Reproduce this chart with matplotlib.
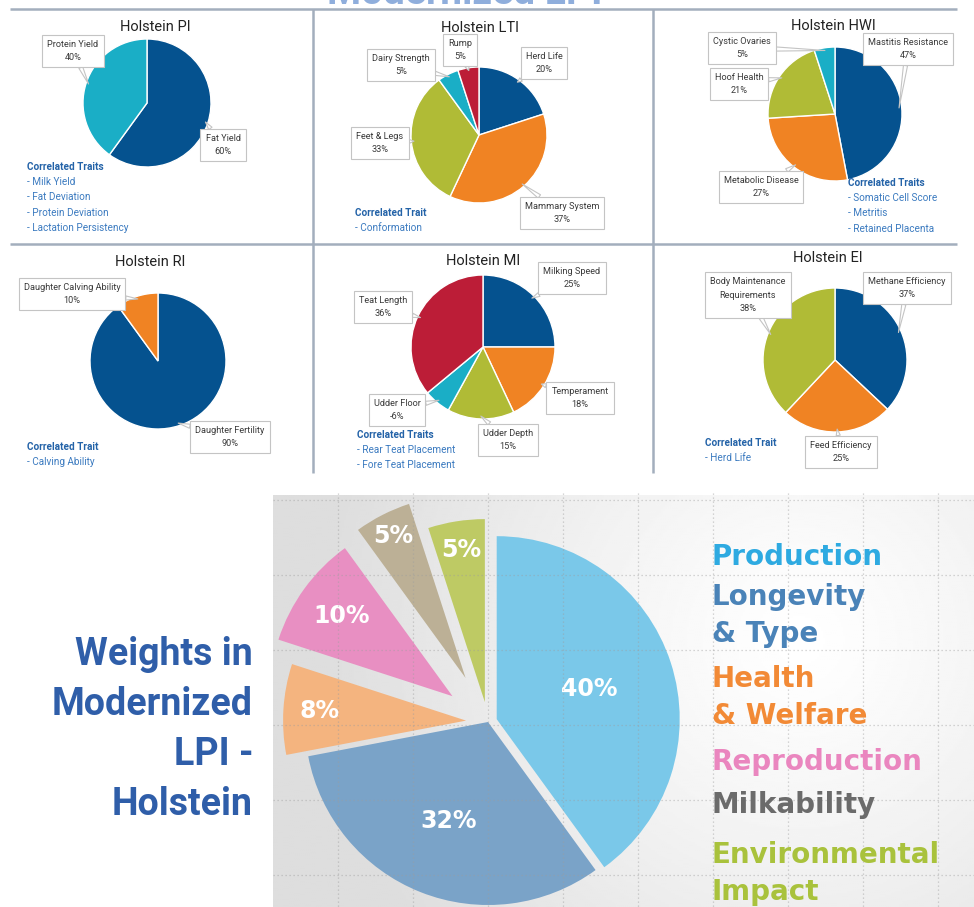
import numpy as np
import matplotlib
matplotlib.use('Agg')
import matplotlib.pyplot as plt

W, H = 974, 907

# ---------------- data ----------------
pi_labels = ['Fat Yield', 'Protein Yield']
pi_values = [60, 40]
pi_corr = ['Milk Yield', 'Fat Deviation', 'Protein Deviation', 'Lactation Persistency']

lti_labels = ['Herd Life', 'Mammary System', 'Feet & Legs', 'Dairy Strength', 'Rump']
lti_values = [20, 37, 33, 5, 5]
lti_corr = ['Conformation']

hwi_labels = ['Mastitis Resistance', 'Metabolic Disease', 'Hoof Health', 'Cystic Ovaries']
hwi_values = [47, 27, 21, 5]
hwi_corr = ['Somatic Cell Score', 'Metritis', 'Retained Placenta']

ri_labels = ['Daughter Fertility', 'Daughter Calving Ability']
ri_values = [90, 10]
ri_corr = ['Calving Ability']

mi_labels = ['Milking Speed', 'Temperament', 'Udder Depth', 'Udder Floor', 'Teat Length']
mi_values = [25, 18, 15, -6, 36]
mi_corr = ['Rear Teat Placement', 'Fore Teat Placement']

ei_labels = ['Methane Efficiency', 'Feed Efficiency', 'Body Maintenance\nRequirements']
ei_values = [37, 25, 38]
ei_corr = ['Herd Life']

lpi_groups = ['Production', 'Longevity\n& Type', 'Health\n& Welfare', 'Reproduction',
              'Milkability', 'Environmental\nImpact']
lpi_values = [40, 32, 8, 10, 5, 5]

# ---------------- style ----------------
BLUE, ORANGE, GREEN, TEAL, RED = '#05528F', '#F08323', '#B0BB36', '#1AAEC6', '#BC1D37'
LINE = '#A3AEBD'
CT_HEAD = '#2463A8'
CT_ITEM = '#3C7BC0'

fig = plt.figure(figsize=(W / 100, H / 100), dpi=100)


def rect(x0, y0, w, h):
    return [x0 / W, 1 - (y0 + h) / H, w / W, h / H]


canvas = fig.add_axes([0, 0, 1, 1], zorder=10)
canvas.set_xlim(0, W)
canvas.set_ylim(H, 0)
canvas.axis('off')

# frame lines of the top grid
for yy in (9, 244):
    canvas.plot([10, 957], [yy, yy], color=LINE, lw=1.8, solid_capstyle='butt')
for xx in (313, 653):
    canvas.plot([xx, xx], [9, 473], color=LINE, lw=1.8, solid_capstyle='butt')

# clipped page title at the very top
canvas.text(465, 3.5, 'Modernized LPI', ha='center', va='baseline', fontsize=28,
            fontweight='bold', color='#8FAEDC', family='Roboto')


def panel(title, tpos, center, r, labels, values, colors, boxpos, corr_head, corr_items, cpos):
    cx, cy = center
    canvas.text(tpos[0], tpos[1], title, ha='center', va='center', fontsize=10.5,
                family='Roboto', color='#222222')
    ax = fig.add_axes(rect(cx - r, cy - r, 2 * r, 2 * r))
    wedges, _ = ax.pie(np.abs(values), colors=colors, startangle=90, counterclock=False,
                       wedgeprops=dict(edgecolor='white', linewidth=1.0))
    ax.set_xlim(-1, 1)
    ax.set_ylim(-1, 1)
    ax.set_aspect('auto')
    ax.axis('off')
    for w, lab, v, (bx, by) in zip(wedges, labels, values, boxpos):
        ang = np.deg2rad((w.theta1 + w.theta2) / 2)
        ax.annotate(f'{lab}\n{v}%', xy=(0.96 * np.cos(ang), 0.96 * np.sin(ang)),
                    xytext=(bx, by), textcoords=canvas.transData,
                    ha='center', va='center', fontsize=6.6, family='Roboto',
                    color='#3A3A3A', linespacing=1.6, annotation_clip=False,
                    bbox=dict(boxstyle='square,pad=0.55', fc='white', ec='#C4C4C4', lw=0.8),
                    arrowprops=dict(arrowstyle='wedge,tail_width=0.45,shrink_factor=0.5',
                                    fc='white', ec='#C4C4C4', lw=0.8,
                                    shrinkA=0, shrinkB=0))
    x0, y0 = cpos
    canvas.text(x0, y0, corr_head, ha='left', va='center', fontsize=7.2,
                fontweight='bold', family='Roboto', color=CT_HEAD)
    for i, item in enumerate(corr_items):
        canvas.text(x0, y0 + 15.2 * (i + 1), '- ' + item, ha='left', va='center',
                    fontsize=7.2, family='Roboto', color=CT_ITEM)


panel('Holstein PI', (155, 27), (147, 103), 64, pi_labels, pi_values, [BLUE, TEAL],
      [(223, 145), (73, 51)], 'Correlated Traits', pi_corr, (27, 167))
panel('Holstein LTI', (480, 28), (479, 135), 68, lti_labels, lti_values,
      [BLUE, ORANGE, GREEN, TEAL, RED],
      [(544, 63), (562, 213), (380, 143), (401, 65), (460, 50)],
      'Correlated Trait', lti_corr, (355, 213))
panel('Holstein HWI', (833, 26), (835, 114), 67, hwi_labels, hwi_values,
      [BLUE, ORANGE, GREEN, TEAL],
      [(908, 49), (761, 187), (739, 84), (742, 48)],
      'Correlated Traits', hwi_corr, (848, 183))
panel('Holstein RI', (150, 262), (158, 361), 68, ri_labels, ri_values, [BLUE, ORANGE],
      [(230, 437), (72, 294)], 'Correlated Trait', ri_corr, (27, 447))
panel('Holstein MI', (483, 261), (483, 347), 72, mi_labels, mi_values,
      [BLUE, ORANGE, GREEN, TEAL, RED],
      [(572, 278), (580, 398), (508, 440), (397, 410), (383, 307)],
      'Correlated Traits', mi_corr, (357, 435))
panel('Holstein EI', (828, 258), (835, 360), 72, ei_labels, ei_values,
      [BLUE, ORANGE, GREEN],
      [(907, 288), (841, 452), (748, 295)],
      'Correlated Trait', ei_corr, (705, 443))

# ---------------- bottom: LPI weights ----------------
bx0, by0, bx1, by1 = 273, 495, 974, 907
pcx, pcy, pr = 488, 722, 183
axb = fig.add_axes(rect(bx0, by0, bx1 - bx0, by1 - by0))
xl = ((bx0 - pcx) / pr, (bx1 - pcx) / pr)
yl = ((pcy - by1) / pr, (pcy - by0) / pr)
gx = np.linspace(xl[0], xl[1], 350)
gy = np.linspace(yl[0], yl[1], 220)
X, Y = np.meshgrid(gx, gy)
lx, ly = (800 - pcx) / pr, (pcy - 640) / pr
D = np.sqrt((X - lx) ** 2 + (Y - ly) ** 2)
img = 1.0 - 0.13 * np.clip(D / 2.6, 0, 1) ** 1.2
axb.imshow(img, extent=(xl[0], xl[1], yl[0], yl[1]), origin='lower', cmap='gray',
           vmin=0, vmax=1, zorder=0, aspect='auto', interpolation='bilinear')

lpi_colors = ['#7AC8E9', '#7AA3C8', '#F4B47F', '#E88FC2', '#BCB096', '#BECA64']
lpi_explode = [0.05, 0.0, 0.12, 0.24, 0.27, 0.11]
lpi_label_r = [0.53, 0.58, 0.80, 0.75, 0.87, 0.84]
wedges, _ = axb.pie(lpi_values, colors=lpi_colors, startangle=90, counterclock=False,
                    explode=lpi_explode, radius=1.0, wedgeprops=dict(linewidth=0))
axb.set_xlim(*xl)
axb.set_ylim(*yl)
axb.set_aspect('auto')
axb.axis('off')
for w, v, rd in zip(wedges, lpi_values, lpi_label_r):
    ang = np.deg2rad((w.theta1 + w.theta2) / 2)
    wx, wy = w.center
    axb.text(wx + rd * np.cos(ang), wy + rd * np.sin(ang), f'{v}%', ha='center',
             va='center', fontsize=17, fontweight='bold', color='white',
             family='DejaVu Sans')

# dotted grid over the bottom picture
GRID = '#9E9E9E'
for yy in (500, 575, 650, 725, 800, 875):
    canvas.plot([bx0, bx1], [yy, yy], color=GRID, lw=0.9, ls=(0, (1, 2.2)), alpha=0.55)
for xx in (338, 413, 488, 563, 638, 713, 788, 863, 938):
    canvas.plot([xx, xx], [493, by1], color=GRID, lw=0.9, ls=(0, (1, 2.2)), alpha=0.55)

# legend words on the right
legend_colors = ['#2EAAE1', '#4A83B8', '#F28A36', '#EA86BF', '#6B6B6B', '#A9C23C']
legend_base = [565, 605, 687, 770, 813, 863]
for grp, col, yb in zip(lpi_groups, legend_colors, legend_base):
    for j, line in enumerate(grp.split('\n')):
        canvas.text(712, yb + 37 * j, line, ha='left', va='baseline', fontsize=20,
                    fontweight='bold', color=col, family='DejaVu Sans')

# left title
title_lines = ['Weights in', 'Modernized', 'LPI -', 'Holstein']
for i, line in enumerate(title_lines):
    canvas.text(253, 665 + 50 * i, line, ha='right', va='baseline', fontsize=27,
                fontweight='bold', color='#2F5EA9', family='Roboto')

fig.savefig('out.png', dpi=100)
